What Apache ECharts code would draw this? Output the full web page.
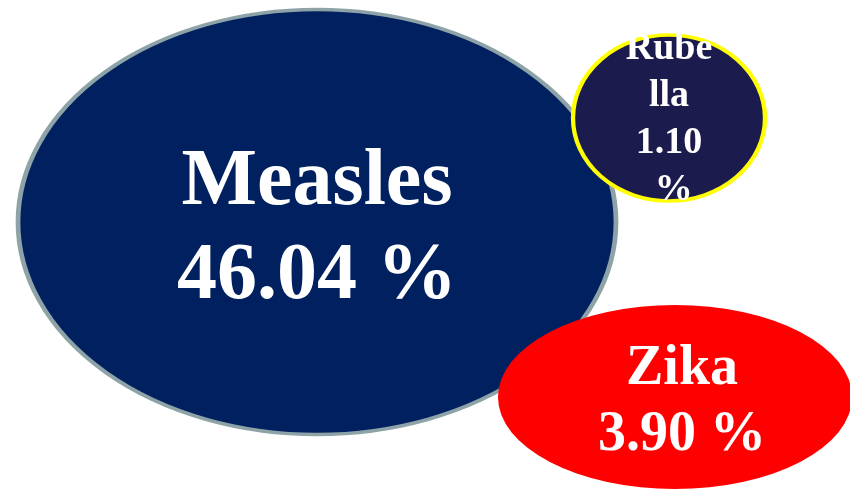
<!DOCTYPE html>
<html>
<head>
<meta charset="utf-8">
<script src="https://cdn.jsdelivr.net/npm/echarts@6/dist/echarts.min.js"></script>
<style>
  html, body { margin: 0; padding: 0; background: #ffffff; }
  #chart { width: 850px; height: 489px; }
</style>
</head>
<body>
<div id="chart"></div>
<script>
// Share of cases per disease
const diseases = ['Measles', 'Rubella', 'Zika'];
const shares = [46.04, 1.10, 3.90];

// Bubble layout (plot units = pixels of the 850x489 canvas)
const centerX = [317, 669, 675];
const centerY = [222, 118, 397];
const bubbleW = [598, 192, 354];
const bubbleH = [425, 166, 184];

const fills = ['#002060', '#1c1b4d', '#ff0000'];
const borders = ['#8ea3a7', '#ffff00', 'transparent'];
const borderWidths = [4, 4, 0];
const fontSizes = [80, 38, 56];
const lineHeights = [94, 47, 66];
const labelWidths = [500, 80, 300];
const labelOffsets = [[0, 8], [0, 2], [7, 6]];

// Draw the big bubble first so the small ones sit on top of it
const drawOrder = [0, 2, 1];

const data = drawOrder.map(i => ({
  name: diseases[i],
  value: [centerX[i], centerY[i], shares[i]],
  symbolSize: [bubbleW[i], bubbleH[i]],
  itemStyle: {
    color: fills[i],
    borderColor: borders[i],
    borderWidth: borderWidths[i],
    opacity: 1
  },
  label: {
    show: true,
    position: 'inside',
    offset: labelOffsets[i],
    formatter: p => p.name + '\n' + p.value[2].toFixed(2) + ' %',
    color: '#ffffff',
    fontFamily: '"Liberation Serif", "Times New Roman", serif',
    fontWeight: 'bold',
    fontSize: fontSizes[i],
    lineHeight: lineHeights[i],
    align: 'center',
    width: labelWidths[i],
    overflow: 'breakAll'
  }
}));

const chart = echarts.init(document.getElementById('chart'), null, { renderer: 'canvas' });
chart.setOption({
  animation: false,
  backgroundColor: '#ffffff',
  grid: { left: 0, right: 0, top: 0, bottom: 0 },
  xAxis: { type: 'value', min: 0, max: 850, show: false },
  yAxis: { type: 'value', min: 0, max: 489, inverse: true, show: false },
  series: [{
    type: 'scatter',
    symbol: 'circle',
    data: data,
    emphasis: { disabled: true },
    z: 2
  }]
});
</script>
</body>
</html>
